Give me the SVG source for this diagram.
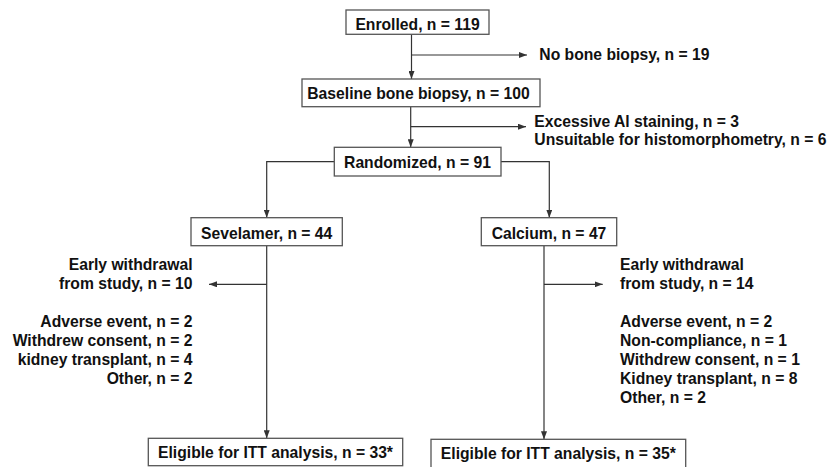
<svg xmlns="http://www.w3.org/2000/svg" width="831" height="467" viewBox="0 0 831 467">
<defs>
<style>
.box{fill:#fff;stroke:#555;stroke-width:1.3}
.t{font-family:"Liberation Sans",Arial,Helvetica,sans-serif;font-weight:bold;font-size:15.7px;fill:#111}
.m{text-anchor:middle}
.e{text-anchor:end}
.c{fill:none;stroke:#333;stroke-width:1.2}
</style>
<marker id="ah" viewBox="0 0 8 6" refX="8" refY="3" markerWidth="8" markerHeight="6" markerUnits="userSpaceOnUse" orient="auto">
<path d="M0,0 L8,3 L0,6 z" fill="#333"/>
</marker>
</defs>
<rect width="831" height="467" fill="#fff"/>
<g id="connectors">
<path class="c" d="M411.5,34.3 V79" marker-end="url(#ah)"/>
<path class="c" d="M411.5,55 H527" marker-end="url(#ah)"/>
<path class="c" d="M410.7,106.7 V147.3" marker-end="url(#ah)"/>
<path class="c" d="M410.7,126.7 H526" marker-end="url(#ah)"/>
<path class="c" d="M334.3,161.7 H266.7 V217.7" marker-end="url(#ah)"/>
<path class="c" d="M501,161.7 H549.3 V217.7" marker-end="url(#ah)"/>
<path class="c" d="M266.7,245.7 V438.3" marker-end="url(#ah)"/>
<path class="c" d="M266.7,284.3 H209" marker-end="url(#ah)"/>
<path class="c" d="M544,245.7 V439.3" marker-end="url(#ah)"/>
<path class="c" d="M544,284.3 H602.7" marker-end="url(#ah)"/>
</g>
<g id="enrolled">
<rect class="box" x="346" y="10" width="143" height="24.3"/>
<text class="t m" x="417.5" y="30.3">Enrolled, n = 119</text>
</g>
<g id="no-biopsy">
<text class="t" x="539.3" y="60">No bone biopsy, n = 19</text>
</g>
<g id="baseline">
<rect class="box" x="302" y="79" width="238" height="27.7"/>
<text class="t m" x="418.5" y="99.3">Baseline bone biopsy, n = 100</text>
</g>
<g id="excluded">
<text class="t" x="534.3" y="126.5">Excessive Al staining, n = 3</text>
<text class="t" x="534.3" y="145">Unsuitable for histomorphometry, n = 6</text>
</g>
<g id="randomized">
<rect class="box" x="334.3" y="147.3" width="166.7" height="28.7"/>
<text class="t m" x="417.5" y="167.7">Randomized, n = 91</text>
</g>
<g id="sevelamer">
<rect class="box" x="191" y="217.7" width="151.3" height="28"/>
<text class="t m" x="266.7" y="239">Sevelamer, n = 44</text>
</g>
<g id="calcium">
<rect class="box" x="481.3" y="217.7" width="135.4" height="28"/>
<text class="t m" x="549" y="239">Calcium, n = 47</text>
</g>
<g id="sevelamer-withdrawal">
<text class="t e" x="192.5" y="270">Early withdrawal</text>
<text class="t e" x="192.5" y="289">from study, n = 10</text>
<text class="t e" x="192.5" y="326.5">Adverse event, n = 2</text>
<text class="t e" x="192.5" y="345.5">Withdrew consent, n = 2</text>
<text class="t e" x="192.5" y="364.5">kidney transplant, n = 4</text>
<text class="t e" x="192.5" y="383.5">Other, n = 2</text>
</g>
<g id="calcium-withdrawal">
<text class="t" x="620" y="269.5">Early withdrawal</text>
<text class="t" x="620" y="288.5">from study, n = 14</text>
<text class="t" x="620" y="326.7">Adverse event, n = 2</text>
<text class="t" x="620" y="345.7">Non-compliance, n = 1</text>
<text class="t" x="620" y="364.7">Withdrew consent, n = 1</text>
<text class="t" x="620" y="383.7">Kidney transplant, n = 8</text>
<text class="t" x="620" y="402.7">Other, n = 2</text>
</g>
<g id="itt-sevelamer">
<rect class="box" x="148.3" y="438.3" width="254.4" height="27.4"/>
<text class="t m" x="275.5" y="457.7">Eligible for ITT analysis, n = 33*</text>
</g>
<g id="itt-calcium">
<rect class="box" x="431" y="439.3" width="254.7" height="32"/>
<text class="t m" x="558.3" y="459">Eligible for ITT analysis, n = 35*</text>
</g>
</svg>
